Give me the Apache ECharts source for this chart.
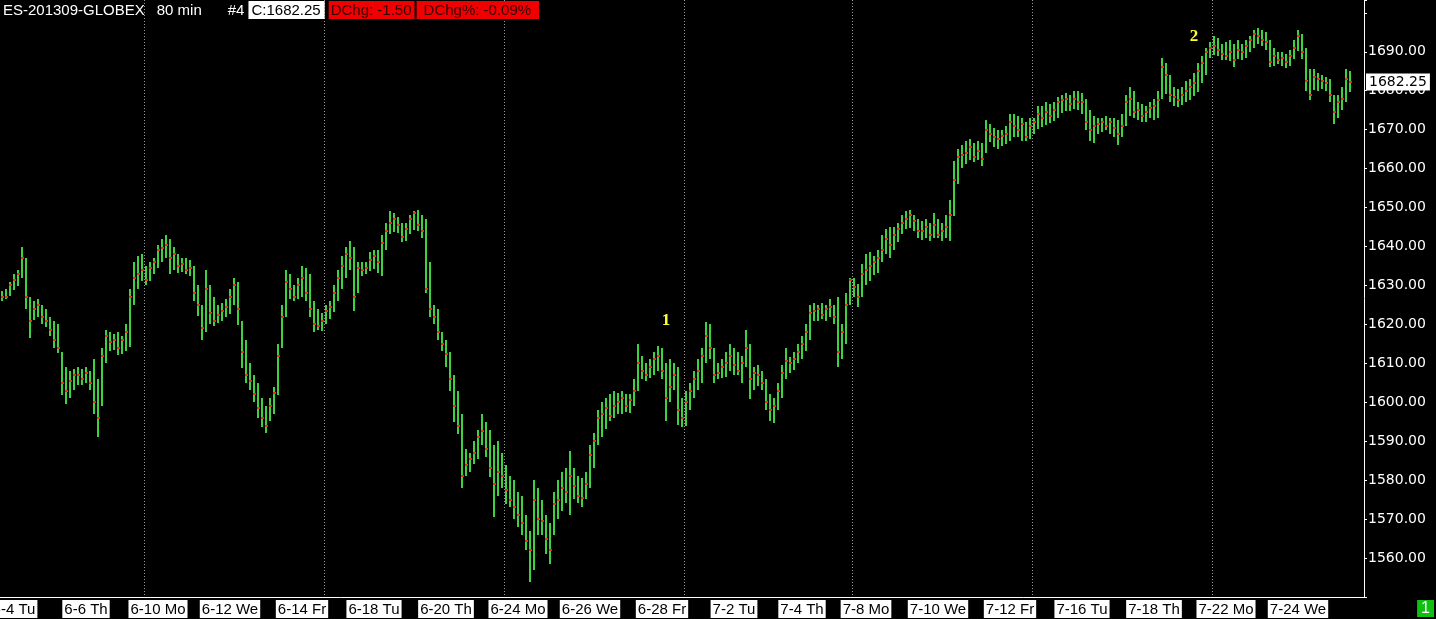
<!DOCTYPE html>
<html>
<head>
<meta charset="utf-8">
<title>ES-201309-GLOBEX 80 min</title>
<script src="https://cdn.jsdelivr.net/npm/echarts@6/dist/echarts.min.js"></script>
<style>
  html, body { margin: 0; padding: 0; background: #000; }
  #chart { width: 1436px; height: 619px; }
</style>
</head>
<body>
<div id="chart"></div>
<script>
// 80 min bars, ES-201309-GLOBEX
const symbol = "ES-201309-GLOBEX";
const barSize = "80 min";
const lastClose = 1682.25;
const dayChange = -1.5;

// trading days and how many (80 min, two per sample) bars each one has
const days = ["6-3 Mo", "6-4 Tu", "6-5 We", "6-6 Th", "6-7 Fr", "6-9 Su",
  "6-10 Mo", "6-11 Tu", "6-12 We", "6-13 Th", "6-14 Fr", "6-16 Su",
  "6-17 Mo", "6-18 Tu", "6-19 We", "6-20 Th", "6-21 Fr", "6-23 Su",
  "6-24 Mo", "6-25 Tu", "6-26 We", "6-27 Th", "6-28 Fr", "6-30 Su",
  "7-1 Mo", "7-2 Tu", "7-3 We", "7-4 Th", "7-5 Fr", "7-7 Su",
  "7-8 Mo", "7-9 Tu", "7-10 We", "7-11 Th", "7-12 Fr", "7-14 Su",
  "7-15 Mo", "7-16 Tu", "7-17 We", "7-18 Th", "7-19 Fr", "7-21 Su",
  "7-22 Mo", "7-23 Tu", "7-24 We", "7-25 Th"];
const barsPerDay = [3, 9, 9, 9, 6, 3,
  9, 9, 9, 9, 6, 3,
  9, 9, 9, 9, 6, 3,
  9, 9, 9, 9, 6, 3,
  9, 9, 8, 5, 8, 3,
  9, 9, 9, 9, 6, 3,
  9, 9, 9, 9, 6, 3,
  9, 9, 9, 5];
// days that get a date label on the time axis
const labelDays = ["6-4 Tu", "6-6 Th", "6-10 Mo", "6-12 We", "6-14 Fr", "6-18 Tu",
  "6-20 Th", "6-24 Mo", "6-26 We", "6-28 Fr", "7-2 Tu", "7-4 Th", "7-8 Mo",
  "7-10 We", "7-12 Fr", "7-16 Tu", "7-18 Th", "7-22 Mo", "7-24 We"];

const high = [1628.5,1629,1631,1633,1634,1640,1637,1627,1626,1626.5,
  1625,1624,1622,1621,1620,1613,1609,1608,1608.5,1609,
  1608.5,1609,1608,1611,1606,1614,1618.5,1618,1617.5,1618,
  1617,1620,1629,1636,1637.5,1638,1635,1636,1637,1640.5,
  1642,1643,1642,1640,1638,1637,1637,1636.5,1635,1630,
  1625,1634,1630,1627,1625,1625.5,1626.5,1629,1632,1631,
  1621,1616,1610,1607,1605,1601,1599,1601,1604,1615,
  1625,1634,1633,1630,1632,1635,1634.5,1633,1626,1624,
  1623,1625,1626,1630,1634,1637.5,1640,1641.5,1640,1636,
  1636,1636,1638.5,1639,1639,1643,1646,1649,1648.5,1647.5,
  1646,1646,1648,1649,1649.5,1648,1647,1636,1625,1624,
  1618,1616,1613,1607,1603,1597,1588,1587,1590,1593,
  1597,1595,1593,1589,1590,1587,1584,1581,1580,1577,
  1576,1571,1567,1580,1578,1575,1571,1569,1577,1580,
  1582,1583,1587.5,1583,1581,1580.5,1582,1589,1592,1598,
  1600,1601,1602,1603,1602.5,1603,1602,1602,1606,1615,
  1612,1610,1611,1613,1614.5,1614,1610,1611,1610,1609,
  1601,1603,1605,1608,1611,1614,1620.5,1620,1614,1610,
  1611,1613,1615,1614,1613,1612,1618.5,1615,1609,1609.5,
  1608,1606,1602,1601,1605,1609.5,1614,1611.5,1613,1615,
  1617,1620,1625,1625.5,1625,1625.5,1625,1626.5,1625,1627,
  1620,1628,1632,1632,1630.5,1635.5,1638,1638.5,1637.5,1639,
  1643,1644.5,1645,1645,1646,1648,1649,1649.5,1648,1647,
  1646.5,1647,1646,1648.5,1647,1646,1648,1652,1662,1665,
  1666,1667,1667.5,1666.5,1667,1666.5,1672.5,1671.5,1670.5,1670,
  1670,1671,1674,1674,1673.5,1673,1672,1673,1673,1676,
  1676,1677,1676.5,1677,1678.5,1679,1679.5,1679,1680,1680,
  1679.5,1678,1675,1673.5,1673,1673,1673.5,1673,1673,1672.5,
  1674,1679,1681,1680,1677,1676.5,1676,1677,1678,1680,
  1688.5,1687,1684,1681,1680.5,1681,1682.5,1683,1684.5,1687,
  1689,1691,1692.5,1694,1693.5,1692,1692.5,1693,1692,1693,
  1692,1693,1694,1695.5,1696,1695.5,1695,1693,1691,1690,
  1690,1689.5,1690.5,1693,1695.5,1694.5,1691,1685.5,1685.5,1684.5,
  1684,1683.5,1683,1679,1679,1681,1685.5,1685];
const low = [1626,1626.5,1627.5,1629,1630,1632,1624,1616.5,1621,1622,
  1620,1619.5,1617,1614,1612.5,1602,1599.5,1601,1603,1604.5,
  1604.5,1605,1603,1597,1591,1599,1610,1613,1613.5,1612,
  1612.5,1613,1614,1625,1629,1631,1630,1631,1633,1634.5,
  1636,1637,1633,1634,1633,1633.5,1633,1632.5,1626,1622,
  1616,1618,1620,1619.5,1620.5,1621,1622,1622.5,1625,1620,
  1609,1605,1603,1600,1596,1593.5,1592,1595,1597,1602,
  1614,1622,1626.5,1626,1626.5,1627,1626,1622,1618,1618.5,
  1618.5,1620,1621.5,1623,1626,1629,1632,1634,1623.5,1628,
  1632.5,1633,1633.5,1634,1633,1632.5,1639,1643,1643.5,1643.5,
  1641,1641.5,1643,1644,1644,1642,1628,1622,1620,1616,
  1613,1609,1603,1595,1592,1578,1581,1582,1584,1585.5,
  1589,1586,1581,1570.5,1576,1578,1574,1573,1570,1568,
  1566,1562,1554,1557,1566,1566,1561,1558.5,1566,1570,
  1572,1574,1571,1575,1574,1573,1575,1578,1583,1589,
  1591,1593,1595,1596,1597,1597,1597.5,1597,1599,1603,
  1606,1605.5,1606,1607,1608,1606,1595,1600,1603,1594,
  1593.5,1594,1598,1601,1603,1605,1610,1611,1605,1606,
  1606,1606.5,1608,1607,1607,1605,1609,1601,1603,1604,
  1603,1598,1595,1594.5,1598,1601,1606,1607.5,1608.5,1610,
  1611,1613,1616,1621,1621,1621.5,1621,1622,1620,1609,
  1611,1615,1625,1627,1624.5,1627,1630,1631,1632.5,1633,
  1636,1638,1637,1639,1641,1643,1644.5,1645,1644,1642,
  1641.5,1642,1641.5,1642,1642,1641.5,1642,1641.5,1648,1656,
  1660,1661,1662,1661.5,1662,1660.5,1664,1667,1665.5,1665,
  1666,1666.5,1667,1668,1668,1667,1667,1667.5,1669,1670,
  1670.5,1671,1671.5,1672,1673,1674.5,1675,1675,1675.5,1675,
  1674,1670,1667,1666.5,1669,1669.5,1670,1669,1668,1666,
  1668,1671,1673.5,1673,1672.5,1672,1672,1673,1672.5,1673,
  1678,1679,1677,1676,1676,1676.5,1677,1677.5,1678.5,1679.5,
  1682,1684,1688.5,1689,1689,1688,1688,1687.5,1686,1688,
  1688,1688.5,1690,1691,1692,1691.5,1690.5,1686,1686.5,1687,
  1686.5,1686,1686.5,1688,1690,1688,1680,1677.5,1680,1680,
  1680.5,1680,1677,1671.5,1673,1675,1677,1679.5];
const close = [1627,1627,1630,1631.5,1633,1637,1627,1621,1624,1625,
  1622,1621,1618.5,1616,1614,1605,1603,1605.5,1607,1607,
  1606,1607.5,1605,1600,1596,1612,1617,1615.5,1616,1614,
  1616,1618,1627,1632,1633,1634,1631.5,1634.5,1636,1639,
  1639.5,1640.5,1637,1638,1635,1635.5,1634,1634.5,1628,1625,
  1619,1629,1623,1621,1622.5,1623.5,1624.5,1627,1630,1624,
  1613,1607,1605.5,1602,1598.5,1596,1594,1599,1602.5,1612,
  1622,1631,1629,1627,1630,1632,1628,1624,1620,1619.5,
  1621,1623.5,1624.5,1628,1632,1635,1638,1637,1627,1634.5,
  1634,1634.5,1636.5,1637.5,1636,1641,1644,1646,1647,1645.5,
  1642.5,1644.5,1647,1648.5,1645.5,1644,1629,1624,1622,1618,
  1615,1612.5,1606,1599,1594,1581,1584,1585.5,1587,1591,
  1592.5,1588,1583,1579,1582,1581,1577.5,1575,1573,1571,
  1569,1564.5,1562,1575,1570,1569.5,1565,1562,1574,1575,
  1578,1577,1581,1578.5,1576,1575.5,1579,1586.5,1590,1596,
  1597,1598.5,1596.5,1599,1600,1601,1599,1600.5,1603,1610,
  1608,1607,1609,1611,1612,1608,1601,1604,1607,1598,
  1596,1600,1603,1606,1608,1612,1617,1614,1607,1607.5,
  1609,1610,1612,1609.5,1608,1610,1614,1606,1607.5,1607,
  1605,1600,1598,1599,1603,1607.5,1610.5,1610,1611,1613,
  1615,1618,1623,1623.5,1624,1622.5,1624,1624.5,1622,1613,
  1618,1625,1631.5,1629.5,1627,1633,1634,1635,1636,1637,
  1639,1642,1640.5,1643,1644.5,1646,1647,1648,1646.5,1644,
  1644,1645,1643,1645.5,1643,1644,1645,1648,1657,1663,
  1663.5,1664,1665.5,1663,1664.5,1662.5,1670,1669,1668,1667.5,
  1668.5,1669,1672,1671,1670,1671.5,1668,1671,1672,1674,
  1673,1674.5,1673.5,1675,1677,1677.5,1678,1676.5,1678,1677,
  1677,1672,1670,1671,1671.5,1672,1671,1672,1670.5,1669,
  1671,1677,1678,1674.5,1675,1673.5,1674.5,1675.5,1676,1677.5,
  1686,1684,1679,1678.5,1677.5,1679,1680,1681,1682,1685,
  1687,1690,1691,1691.5,1690.5,1689.5,1689,1690,1688,1690.5,
  1690,1691.5,1693,1694.5,1694,1693,1692.5,1687.5,1689,1688,
  1688.5,1687.5,1689,1691,1694,1690,1682.5,1679,1683.5,1683,
  1682.5,1682,1679,1674.5,1677,1678,1683,1682.25];

// wave count marks
const waveNames = ["1", "2"];
const waveBars = [166, 298];
const wavePrices = [1621, 1694];

// categories: one per bar, named by its day
const categories = [];
const labelIdx = new Set();
const weekIdx = new Set();
days.forEach((d, k) => {
  if (labelDays.includes(d)) labelIdx.add(categories.length);
  if (d.endsWith("Su")) weekIdx.add(categories.length);
  for (let j = 0; j < barsPerDay[k]; j++) categories.push(d);
});
// a little empty room at the right
for (let j = 0; j < 3; j++) categories.push("");

const GREEN = "#3fd23f";
const RED = "#e3301c";

const chart = echarts.init(document.getElementById("chart"));

const renderBar = (params, api) => {
  const i = api.value(0);
  const top = api.coord([i, api.value(1)]);
  const bot = api.coord([i, api.value(2)]);
  const cl = api.coord([i, api.value(3)]);
  const x = Math.round(top[0]);
  return {
    type: "group",
    children: [
      {
        type: "rect",
        shape: { x: x - 1, y: Math.round(top[1]), width: 2, height: Math.max(1, Math.round(bot[1] - top[1])) },
        style: { fill: GREEN },
      },
      {
        type: "rect",
        shape: { x: x - 1, y: Math.round(cl[1]) - 1, width: 3, height: 2 },
        style: { fill: RED },
      },
    ],
  };
};

const pct = (dayChange / (lastClose - dayChange)) * 100;
const titleFont = { fontFamily: "Liberation Sans", fontSize: 15, fontWeight: "normal" };

const options = {
  backgroundColor: "#000",
  animation: false,
  title: [
    {
      left: 3,
      top: 1,
      padding: 0,
      text:
        "{n|" + symbol + "}{m|" + barSize + "}{k|#4}{g| }{c|C:" + lastClose.toFixed(2) + "}{g| }" +
        "{r|DChg: " + dayChange.toFixed(2) + "}{h| }{q|DChg%: " + pct.toFixed(2) + "%}",
      textStyle: {
        fontWeight: "normal",
        rich: {
          n: { ...titleFont, color: "#fff", padding: [2, 0, 1, 0] },
          m: { ...titleFont, color: "#fff", padding: [2, 0, 1, 12] },
          k: { ...titleFont, color: "#fff", padding: [2, 0, 1, 26] },
          c: { ...titleFont, color: "#000", backgroundColor: "#fff", padding: [2, 4, 1, 3] },
          r: { ...titleFont, color: "#3a0000", backgroundColor: "#f00000", padding: [2, 3, 1, 2] },
          q: { ...titleFont, color: "#3a0000", backgroundColor: "#f00000", padding: [2, 8, 1, 7] },
          g: { fontSize: 4, width: 4 },
          h: { fontSize: 4, width: 2 },
        },
      },
    },
    {
      right: 2,
      bottom: 2,
      padding: [1, 4, 0, 4],
      backgroundColor: "#10c010",
      text: "1",
      textStyle: { color: "#fff", fontFamily: "Liberation Sans", fontSize: 16, fontWeight: "normal" },
    },
  ],
  grid: { left: 0, right: 72, top: 0, bottom: 22, outerBoundsMode: "none", containLabel: false },
  xAxis: {
    type: "category",
    data: categories,
    boundaryGap: true,
    axisLine: { lineStyle: { color: "#fff", width: 1 } },
    axisTick: {
      alignWithLabel: true,
      length: 5,
      interval: (i) => labelIdx.has(i),
      lineStyle: { color: "#fff" },
    },
    axisLabel: {
      interval: (i) => labelIdx.has(i),
      color: "#000",
      backgroundColor: "#fff",
      padding: [2, 2, 1, 2],
      margin: 3,
      fontFamily: "Liberation Sans",
      fontSize: 15,
      hideOverlap: false,
    },
    splitLine: {
      show: true,
      interval: (i) => weekIdx.has(i),
      lineStyle: { color: "#9a9a9a", type: [1, 2], width: 1 },
    },
  },
  yAxis: {
    type: "value",
    position: "right",
    min: 1550,
    max: 1703.3,
    interval: 10,
    axisLine: { show: true, lineStyle: { color: "#fff", width: 1 } },
    axisTick: { show: true, length: 3, lineStyle: { color: "#fff" } },
    splitLine: { show: false },
    axisLabel: {
      color: "#fff",
      margin: 4,
      padding: [5, 0, 0, 0],
      fontFamily: "DejaVu Sans",
      fontSize: 14,
      formatter: (v) => (v >= 1560 && v <= 1690 ? v.toFixed(2) : ""),
    },
  },
  series: [
    {
      type: "custom",
      renderItem: renderBar,
      encode: { x: 0, y: [1, 2, 3] },
      data: high.map((h, i) => [i, h, low[i], close[i]]),
      clip: true,
      markLine: {
        silent: true,
        symbol: "none",
        lineStyle: { color: "rgba(0,0,0,0)", width: 0 },
        label: {
          show: true,
          position: "end",
          distance: 2,
          formatter: () => lastClose.toFixed(2),
          color: "#000",
          backgroundColor: "#fff",
          padding: [2, 3, 1, 3],
          fontFamily: "DejaVu Sans",
          fontSize: 14,
        },
        data: [{ yAxis: lastClose }],
      },
      markPoint: {
        silent: true,
        symbol: "circle",
        symbolSize: 1,
        itemStyle: { color: "rgba(0,0,0,0)" },
        label: {
          show: true,
          position: "inside",
          color: "#ffff30",
          fontFamily: "Liberation Serif",
          fontWeight: "bold",
          fontSize: 17,
          formatter: (p) => p.name,
        },
        data: waveNames.map((n, k) => ({ name: n, coord: [waveBars[k], wavePrices[k]] })),
      },
    },
  ],
};
chart.setOption(options);
</script>
</body>
</html>
